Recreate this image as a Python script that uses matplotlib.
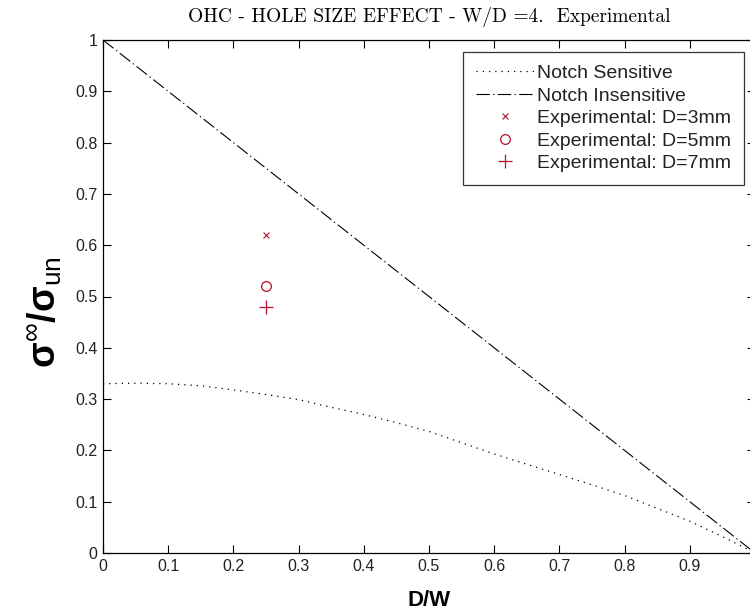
import numpy as np
import matplotlib
matplotlib.use("Agg")
import matplotlib.pyplot as plt

# ---- data ----
dw = [0.0, 0.05, 0.10, 0.15, 0.20, 0.25, 0.30, 0.35, 0.40, 0.45, 0.50,
      0.55, 0.60, 0.65, 0.70, 0.75, 0.80, 0.85, 0.90, 0.95, 1.0]
notch_sensitive = [0.330, 0.331, 0.330, 0.326, 0.318, 0.309, 0.299, 0.284,
                   0.270, 0.254, 0.237, 0.215, 0.193, 0.173, 0.153, 0.133,
                   0.112, 0.087, 0.062, 0.032, 0.0]
insens_x = [0.0, 1.0]
insens_y = [1.0, 0.0]
exp_x = [0.25]
exp_d3 = [0.62]
exp_d5 = [0.52]
exp_d7 = [0.48]
xticks = [0, 0.1, 0.2, 0.3, 0.4, 0.5, 0.6, 0.7, 0.8, 0.9]
yticks = [0, 0.1, 0.2, 0.3, 0.4, 0.5, 0.6, 0.7, 0.8, 0.9, 1]

plt.rcParams['font.family'] = ['Liberation Sans', 'DejaVu Sans']
plt.rcParams['mathtext.fontset'] = 'custom'
plt.rcParams['mathtext.rm'] = 'Liberation Sans'
plt.rcParams['mathtext.it'] = 'Liberation Sans:italic'
plt.rcParams['mathtext.bf'] = 'Liberation Sans:bold'

W, H = 750, 616
fig = plt.figure(figsize=(W / 100, H / 100), dpi=100)
left, right, top, bottom = 103, 755, 40, 553
ax = fig.add_axes([left / W, (H - bottom) / H, (right - left) / W, (bottom - top) / H])

red = '#b0102a'
ax.plot(dw, notch_sensitive, color='black', lw=0.9, linestyle=(0, (1, 4)),
        label='Notch Sensitive')
ax.plot(insens_x, insens_y, color='black', lw=0.8, linestyle=(0, (12, 3, 1.2, 3)),
        label='Notch Insensitive')
ax.plot(exp_x, exp_d3, linestyle='none', marker='x', ms=5, mew=0.8, color=red,
        label='Experimental: D=3mm')
ax.plot(exp_x, exp_d5, linestyle='none', marker='o', ms=7, mew=0.9, mfc='none',
        color=red, label='Experimental: D=5mm')
ax.plot(exp_x, exp_d7, linestyle='none', marker='+', ms=10, mew=0.9, color=red,
        label='Experimental: D=7mm')

ax.set_xlim(0, 1)
ax.set_ylim(0, 1)
ax.set_xticks(xticks)
ax.set_xticklabels([('%g' % v) for v in xticks])
ax.set_yticks(yticks)
ax.set_yticklabels([('%g' % v) for v in yticks])
ax.tick_params(direction='in', length=6, width=0.8, top=True, right=True,
               labelsize=11.5, labelcolor='#222222', pad=4)
for s in ax.spines.values():
    s.set_linewidth(0.9)

ax.set_title('OHC - HOLE SIZE EFFECT - W/D =4.  Experimental',
             family=['cmr10', 'DejaVu Serif'], fontsize=14, pad=13)
ax.set_xlabel('D/W', fontsize=16, fontweight='bold', labelpad=12)
ax.set_ylabel(r'$\mathbf{\sigma}^{\infty}\mathbf{/\sigma}_{\mathrm{un}}$',
              fontsize=27)
ax.yaxis.set_label_coords((64 - left) / (right - left), (bottom - 312) / (bottom - top))

leg = ax.legend(loc='upper right',
                bbox_to_anchor=((744 - left) / (right - left), (bottom - 52) / (bottom - top)),
                fontsize=14, frameon=True, fancybox=False, edgecolor='black',
                handlelength=3.0, handletextpad=0.15, borderpad=0.65,
                labelspacing=0.25, borderaxespad=0)
leg.get_frame().set_linewidth(0.9)
for t in leg.get_texts():
    t.set_color('#222222')

fig.savefig('out.png', dpi=100)
